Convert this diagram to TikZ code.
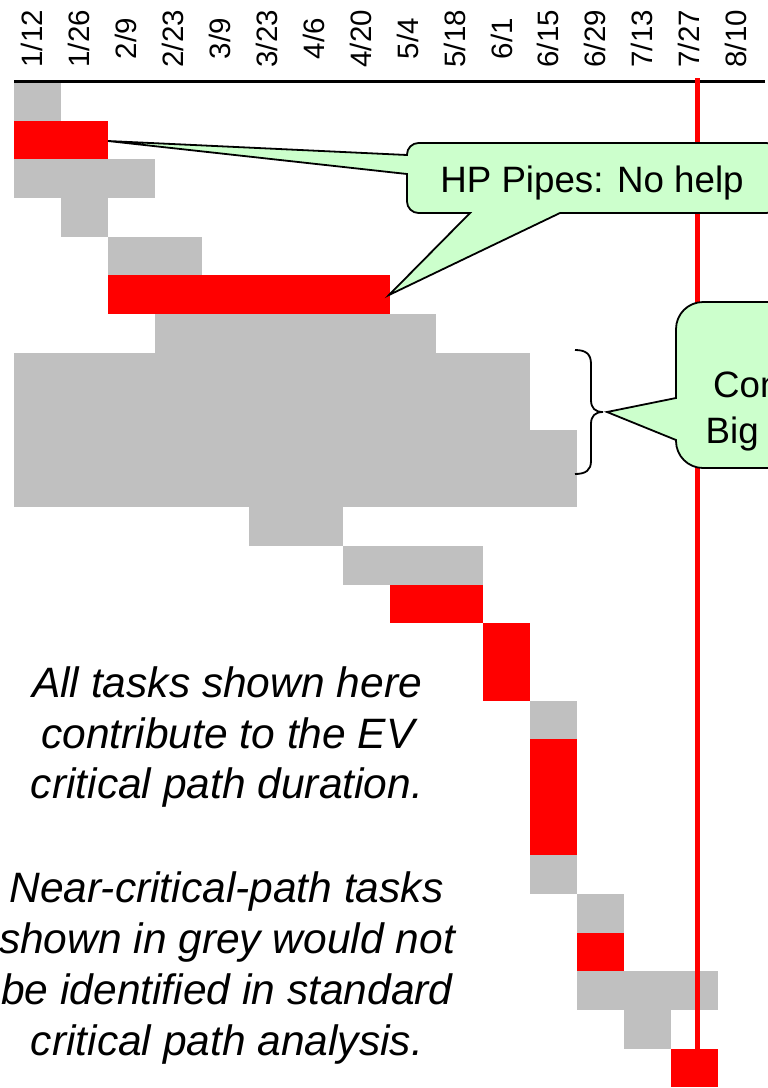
\documentclass[tikz,border=0pt]{standalone}
\usepackage{fontspec}
\setmainfont{Liberation Sans}
\definecolor{barg}{HTML}{C0C0C0}
\definecolor{barr}{HTML}{FF0000}
\definecolor{callg}{HTML}{CCFFCC}
\begin{document}
\begin{tikzpicture}[x=1pt,y=-1pt,
  lbl/.style={rotate=90,anchor=mid,inner sep=0pt,font=\fontsize{29.5}{29.5}\selectfont},
  note/.style={anchor=base,inner sep=0pt,font=\fontsize{42.5}{42.5}\selectfont\itshape},
  calltext/.style={inner sep=0pt,font=\fontsize{36.7}{36.7}\selectfont},
  callout/.style={draw=black,fill=callg,line width=1.8pt,line join=miter},
  bracepath/.style={draw=black,line width=1.8pt},
]
\useasboundingbox (0,0) rectangle (768,1088);
\clip (0,0) rectangle (768,1088);
\fill[white] (0,0) rectangle (768,1088);

% date labels
\foreach \t [count=\i from 0] in {{1/12},{1/26},{2/9},{2/23},{3/9},{3/23},{4/6},{4/20},{5/4},{5/18},{6/1},{6/15},{6/29},{7/13},{7/27},{8/10}}
  \node[lbl] (d\i) at ({14+46.94*(\i+0.5)+2.5},38.7) {\t};

% bars: firstcol/lastcol/firstrow/lastrow/colour
\foreach \a/\b/\r/\s/\c in {
  0/0/0/0/barg, 0/1/1/1/barr, 0/2/2/2/barg, 1/1/3/3/barg, 2/3/4/4/barg,
  2/7/5/5/barr, 3/8/6/6/barg, 0/10/7/8/barg, 0/11/9/10/barg,
  5/6/11/11/barg, 7/9/12/12/barg, 8/9/13/13/barr, 10/10/14/15/barr,
  11/11/16/16/barg, 11/11/17/19/barr, 11/11/20/20/barg,
  12/12/21/21/barg, 12/12/22/22/barr, 12/14/23/23/barg, 13/13/24/24/barg,
  14/14/25/25/barr}
  \fill[\c] ({14+46.94*\a},{82+38.67*\r}) rectangle ({14+46.94*(\b+1)},{82+38.67*(\s+1)});

% header rule
\draw[line width=3.3pt] (14,81.7) -- (765,81.7);
% status line
\draw[barr,line width=5.5pt] (697.5,78) -- (697.5,1048.5);

% callout 1
\coordinate (tipA) at (108,141);
\coordinate (tipB) at (389,295);
\draw[callout] (407,155) -- (tipA) -- (407,174) -- (407,201.5)
  .. controls (407,207.85) and (412.15,213) .. (418.5,213) -- (470,213) -- (tipB) -- (560,213)
  -- (766.5,213) .. controls (772.85,213) and (778,207.85) .. (778,201.5) -- (778,154.5)
  .. controls (778,148.15) and (772.85,143) .. (766.5,143) -- (418.5,143)
  .. controls (412.15,143) and (407,148.15) .. (407,154.5) -- cycle;
\node[calltext,anchor=base] (hp) at (592,192) {HP Pipes: No help};

% brace
\coordinate (braceTip) at (603,412);
\draw[bracepath] (575,350) .. controls (586,350) and (591,354) .. (591,364) -- (591,400)
  .. controls (591,408) and (595,412) .. (braceTip)
  .. controls (595,412) and (591,416) .. (591,424) -- (591,461)
  .. controls (591,470) and (586,474) .. (575,474);

% callout 2
\coordinate (tipC) at (607,412);
\draw[callout] (676,398) -- (tipC) -- (676,440) -- (676,441)
  .. controls (676,455.9) and (688.1,468) .. (703,468) -- (900,468) -- (900,302) -- (703,302)
  .. controls (688.1,302) and (676,314.1) .. (676,329) -- cycle;
\node[calltext,anchor=base west] (con) at (713,397) {Con};
\node[calltext,anchor=base west] (big) at (705.5,443) {Big};

% notes
\node[note] (n1) at (227,697) {All tasks shown here};
\node[note] (n2) at (228,748) {contribute to the EV};
\node[note] (n3) at (227,798) {critical path duration.};
\node[note] (n4) at (226.5,902) {Near-critical-path tasks};
\node[note] (n5) at (227,953) {shown in grey would not};
\node[note] (n6) at (227,1004) {be identified in standard};
\node[note] (n7) at (227,1055) {critical path analysis.};
\end{tikzpicture}
\end{document}
